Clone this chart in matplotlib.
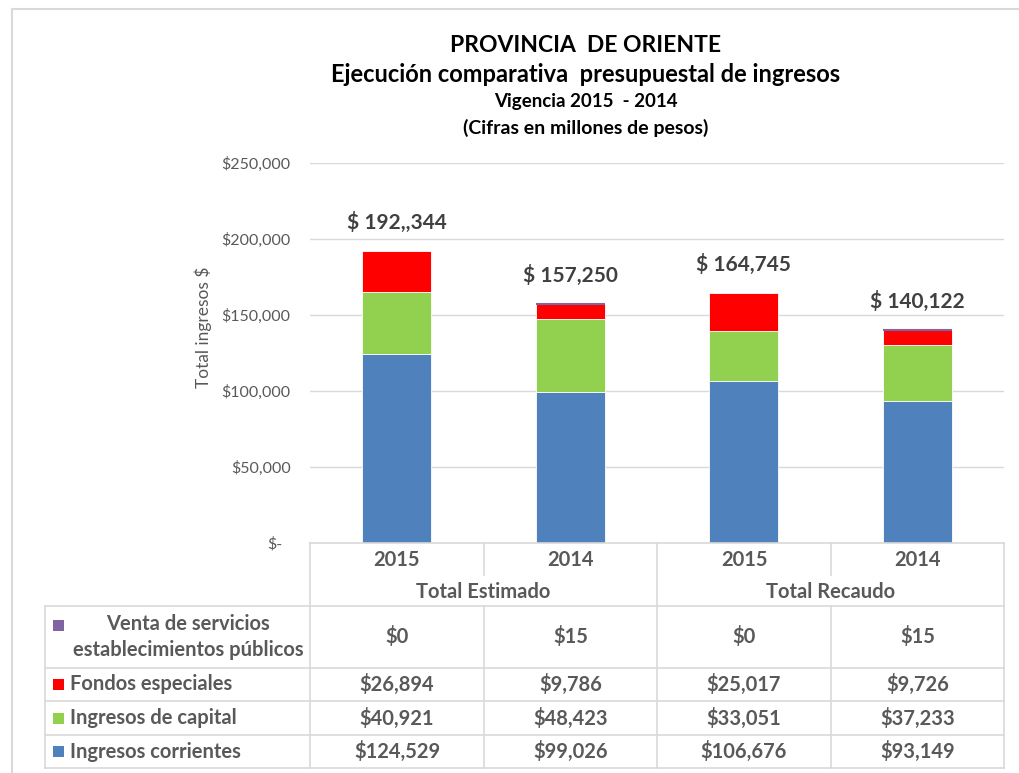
import matplotlib
matplotlib.use("Agg")
import matplotlib.pyplot as plt
import matplotlib.transforms as mtransforms
from matplotlib.lines import Line2D
from matplotlib.patches import Rectangle

# ---- data ----
years = ["2015", "2014", "2015", "2014"]
groups = ["Total Estimado", "Total Recaudo"]
series_names = ["Ingresos corrientes", "Ingresos de capital", "Fondos especiales",
                "Venta de servicios\nestablecimientos públicos"]
corrientes = [124529, 99026, 106676, 93149]
capital = [40921, 48423, 33051, 37233]
fondos = [26894, 9786, 25017, 9726]
venta = [0, 15, 0, 15]
total_labels = ["$ 192,,344", "$ 157,250", "$ 164,745", "$ 140,122"]
yticks = [0, 50000, 100000, 150000, 200000, 250000]

colors = ["#4F81BD", "#92D050", "#FF0000", "#8064A2"]
series = [corrientes, capital, fondos, venta]

plt.rcParams['font.family'] = ['Lato', 'DejaVu Sans']
W, H = 1019, 773
fig = plt.figure(figsize=(W / 100, H / 100), dpi=100)
fig.patch.set_facecolor("white")

def fx(x):
    return x / W

def fy(y):
    return 1 - y / H

# outer border
fig.add_artist(Line2D([fx(12), fx(12)], [fy(9), fy(773)], transform=fig.transFigure, color="#D9D9D9", lw=1.5))
fig.add_artist(Line2D([fx(12), fx(1019)], [fy(9), fy(9)], transform=fig.transFigure, color="#D9D9D9", lw=1.5))

# titles
tc = "#000000"
fig.text(fx(586), fy(45), "PROVINCIA  DE ORIENTE", ha="center", va="center", fontsize=16.5, fontweight="bold", color=tc)
fig.text(fx(586), fy(74), "Ejecución comparativa  presupuestal de ingresos", ha="center", va="center", fontsize=17, fontweight="bold", color=tc)
fig.text(fx(586), fy(101), "Vigencia 2015  - 2014", ha="center", va="center", fontsize=13.5, fontweight="bold", color=tc)
fig.text(fx(586), fy(128), "(Cifras en millones de pesos)", ha="center", va="center", fontsize=14, fontweight="bold", color=tc)

# main axes
L, R, T, B = 310, 1004, 163, 543
ax = fig.add_axes([fx(L), fy(B), (R - L) / W, (B - T) / H])
x = list(range(len(years)))
bottom = [0] * len(years)
for vals, c in zip(series, colors):
    if c == "#8064A2":
        lws = [1.5 if v > 0 else 0 for v in vals]
        ec = c
    else:
        lws = [0.6] * len(vals)
        ec = "white"
    ax.bar(x, vals, width=0.4, bottom=bottom, color=c, edgecolor=ec, linewidth=lws, zorder=3)
    bottom = [b + v for b, v in zip(bottom, vals)]
for xi, tot, lab in zip(x, bottom, total_labels):
    ax.annotate(lab, (xi, tot), xytext=(0, 13), textcoords="offset points", ha="center", va="bottom",
                fontsize=15, fontweight="bold", color="#404040")
ax.set_xlim(-0.5, len(years) - 0.5)
ax.set_ylim(0, 250000)
ax.set_yticks(yticks)
ax.set_yticklabels(["$-" if v == 0 else f"${v:,.0f}" for v in yticks])
ax.tick_params(axis="y", length=0, pad=14, labelsize=11.5, labelcolor="#595959")
ax.set_xticks([])
ax.grid(axis="y", color="#D9D9D9", lw=1, zorder=0)
for s in ax.spines.values():
    s.set_visible(False)
# Excel accounting format: the "$-" label sits a bit further left
zero_lbl = ax.get_yticklabels()[0]
zero_lbl.set_transform(zero_lbl.get_transform() + mtransforms.ScaledTranslation(-8 / 100, 0, fig.dpi_scale_trans))
fig.text(fx(203), fy(327), "Total ingresos $", rotation=90, ha="center", va="center",
         fontsize=12.5, color="#595959")

# data table
lc = "#D9D9D9"
def hline(x0, x1, y):
    fig.add_artist(Line2D([fx(x0), fx(x1)], [fy(y), fy(y)], transform=fig.transFigure, color=lc, lw=1.2))

def vline(x, y0, y1):
    fig.add_artist(Line2D([fx(x), fx(x)], [fy(y0), fy(y1)], transform=fig.transFigure, color=lc, lw=1.2))

cols = [310, 484, 657, 831, 1004]
rows = [606, 668, 701, 735, 768]
hline(310, 1004, 543)
hline(45, 1004, 606)
for y in rows[1:]:
    hline(45, 1004, y)
vline(310, 543, 768)
vline(1004, 543, 768)
vline(657, 543, 768)
vline(484, 543, 575)
vline(831, 543, 575)
vline(484, 606, 768)
vline(831, 606, 768)
vline(45, 606, 768)

txt = "#595959"
fs = 14.5
for i, yr in enumerate(years):
    fig.text(fx((cols[i] + cols[i + 1]) / 2), fy(560), yr, ha="center", va="center",
             fontsize=fs, fontweight="bold", color=txt)
for g, lab in enumerate(groups):
    fig.text(fx((cols[2 * g] + cols[2 * g + 2]) / 2), fy(592), lab, ha="center", va="center",
             fontsize=fs, fontweight="bold", color=txt)

# rows top to bottom: venta, fondos, capital, corrientes
row_order = [3, 2, 1, 0]
for r, si in enumerate(row_order):
    yc = (rows[r] + rows[r + 1]) / 2
    vals = series[si]
    my = 625 if si == 3 else yc
    fig.add_artist(Rectangle((fx(53), fy(my) - 5.5 / H), 11 / W, 11 / H,
                             transform=fig.transFigure, facecolor=colors[si], edgecolor="none"))
    if si == 3:
        fig.text(fx(188), fy(yc), series_names[si], ha="center", va="center", fontsize=fs,
                 fontweight="bold", color=txt, linespacing=1.35)
    else:
        fig.text(fx(70), fy(yc), series_names[si], ha="left", va="center", fontsize=fs,
                 fontweight="bold", color=txt)
    for i, v in enumerate(vals):
        fig.text(fx((cols[i] + cols[i + 1]) / 2), fy(yc), f"${v:,.0f}", ha="center", va="center",
                 fontsize=fs, fontweight="bold", color=txt)

fig.savefig("out.png", dpi=100)
